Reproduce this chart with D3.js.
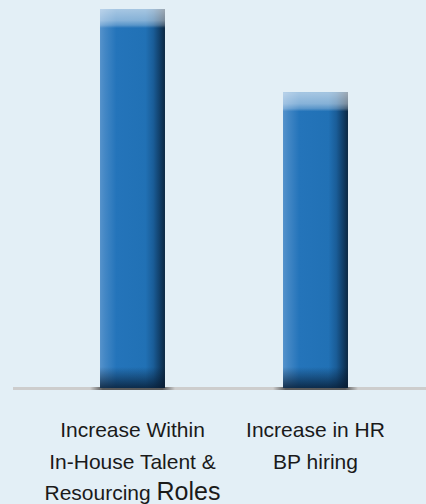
<!DOCTYPE html>
<html>
<head>
<meta charset="utf-8">
<script src="https://cdn.jsdelivr.net/npm/d3@7"></script>
<style>
  html, body { margin: 0; padding: 0; background: #e3eff6; }
  svg { display: block; }
</style>
</head>
<body>
<script>
// chart data
var categories = ["inhouse", "hrbp"];
var values = [100, 78];
var labelLines = [
  [["Increase Within"], ["In-House Talent &"], ["Resourcing ", "Roles"]],
  [["Increase in HR"], ["BP hiring"]]
];

var w = 426;
var h = 504;
var baseY = 388;
var topY = 9;

var svg = d3.select("body")
            .append("svg")
            .attr("width", w)
            .attr("height", h);

svg.append("rect")
   .attr("width", w)
   .attr("height", h)
   .attr("fill", "#e3eff6");

var xScale = d3.scaleBand()
               .domain(categories)
               .range([41, 407])
               .paddingInner(0.645)
               .paddingOuter(0.3225);

var yScale = d3.scaleLinear()
               .domain([0, 100])
               .range([baseY, topY]);

// gradients for the glossy bars
var defs = svg.append("defs");

var side = defs.append("linearGradient")
               .attr("id", "barSide")
               .attr("x1", "0").attr("x2", "1").attr("y1", "0").attr("y2", "0");
[[0, "#5592cb"], [0.08, "#4387c5"], [0.25, "#2474ba"], [0.7, "#2171b5"],
 [0.82, "#1a5d98"], [0.92, "#113f69"], [1, "#0c2842"]].forEach(function(s) {
  side.append("stop").attr("offset", s[0]).attr("stop-color", s[1]);
});

var cap = defs.append("linearGradient")
              .attr("id", "barCap")
              .attr("x1", "0").attr("x2", "0").attr("y1", "0").attr("y2", "1");
[[0, 0.6], [0.6, 0.45], [0.85, 0.25], [1, 0]].forEach(function(s) {
  cap.append("stop").attr("offset", s[0])
     .attr("stop-color", "#ffffff").attr("stop-opacity", s[1]);
});

var bottom = defs.append("linearGradient")
                 .attr("id", "barBottom")
                 .attr("x1", "0").attr("x2", "0").attr("y1", "0").attr("y2", "1");
[[0, 0], [0.45, 0.35], [1, 0.8]].forEach(function(s) {
  bottom.append("stop").attr("offset", s[0])
        .attr("stop-color", "#071a30").attr("stop-opacity", s[1]);
});

var shadow = defs.append("linearGradient")
                 .attr("id", "baseShadow")
                 .attr("x1", "0").attr("x2", "1").attr("y1", "0").attr("y2", "0");
[[0, 0], [0.15, 0.7], [0.85, 0.7], [1, 0]].forEach(function(s) {
  shadow.append("stop").attr("offset", s[0])
        .attr("stop-color", "#2a2a2a").attr("stop-opacity", s[1]);
});

// base line
svg.append("rect")
   .attr("x", 13)
   .attr("y", baseY - 1)
   .attr("width", w - 13)
   .attr("height", 3)
   .attr("fill", "#cdcdcd");

// shadows under bars
svg.selectAll(".shadow")
   .data(categories)
   .enter()
   .append("rect")
   .attr("class", "shadow")
   .attr("x", function(d) { return xScale(d) - 10; })
   .attr("y", baseY - 1)
   .attr("width", xScale.bandwidth() + 20)
   .attr("height", 3)
   .attr("fill", "url(#baseShadow)");

var bars = svg.selectAll(".bar")
              .data(values)
              .enter()
              .append("g")
              .attr("class", "bar");

bars.append("rect")
    .attr("x", function(d, i) { return xScale(categories[i]); })
    .attr("y", function(d) { return yScale(d); })
    .attr("width", xScale.bandwidth())
    .attr("height", function(d) { return baseY - yScale(d); })
    .attr("fill", "url(#barSide)");

bars.append("rect")
    .attr("x", function(d, i) { return xScale(categories[i]); })
    .attr("y", function(d) { return yScale(d); })
    .attr("width", xScale.bandwidth())
    .attr("height", 19)
    .attr("fill", "url(#barCap)");

bars.append("rect")
    .attr("x", function(d, i) { return xScale(categories[i]); })
    .attr("y", baseY - 21)
    .attr("width", xScale.bandwidth())
    .attr("height", 21)
    .attr("fill", "url(#barBottom)");

// category labels
labelLines.forEach(function(lines, i) {
  var cx = xScale(categories[i]) + xScale.bandwidth() / 2;
  var t = svg.append("text")
             .attr("x", cx)
             .attr("y", 437)
             .attr("text-anchor", "middle")
             .attr("font-family", "Arial, 'Liberation Sans', sans-serif")
             .attr("font-size", 21)
             .attr("fill", "#1a1a1a");
  lines.forEach(function(parts, j) {
    parts.forEach(function(p, k) {
      var span = t.append("tspan").text(p);
      if (k === 0) {
        span.attr("x", cx).attr("y", 437 + j * 31.5);
      } else {
        span.attr("font-size", 25);
      }
    });
  });
});
</script>
</body>
</html>
